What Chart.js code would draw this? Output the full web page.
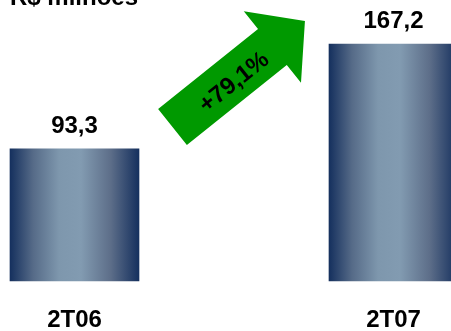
<!DOCTYPE html>
<html>
<head>
<meta charset="utf-8">
<script src="https://cdn.jsdelivr.net/npm/chart.js@4"></script>
<style>
  html, body { margin: 0; padding: 0; background: #fff; }
  canvas { display: block; }
</style>
</head>
<body>
<canvas id="revenueChart" width="451" height="331"></canvas>
<script>
var periods = ['2T06', '2T07'];
var revenue = [93.3, 167.2];
var growthLabel = '+79,1%';
var unitLabel = 'R$ milhões';

var FONT = '"Liberation Sans", Arial, sans-serif';
var BAR_WIDTH = 129;

// metallic look: dark navy edges, light steel blue centre
function barGradient(context) {
    var chart = context.chart;
    if (!chart.chartArea) return '#1b3660';
    var cx = chart.scales.x.getPixelForValue(context.dataIndex);
    var half = BAR_WIDTH / 2;
    var g = chart.ctx.createLinearGradient(cx - half, 0, cx + half, 0);
    g.addColorStop(0, '#15305e');
    g.addColorStop(0.18, '#566b88');
    g.addColorStop(0.38, '#7e97ad');
    g.addColorStop(0.55, '#829bb1');
    g.addColorStop(0.78, '#5d6e89');
    g.addColorStop(1, '#15305e');
    return g;
}

function formatValue(v) {
    return v.toFixed(1).replace('.', ',');
}

// value labels above bars, unit title and growth arrow
var decorations = {
    id: 'decorations',
    afterDraw: function (chart) {
        var ctx = chart.ctx;
        var meta = chart.getDatasetMeta(0);

        ctx.save();
        ctx.fillStyle = '#000';
        ctx.font = 'bold 24px ' + FONT;
        ctx.textAlign = 'center';
        ctx.textBaseline = 'alphabetic';
        meta.data.forEach(function (bar, i) {
            ctx.fillText(formatValue(revenue[i]), bar.x, bar.y - 16);
        });

        // unit title, mostly cut off at the top
        ctx.textAlign = 'left';
        ctx.font = 'bold 24px ' + FONT;
        ctx.fillText(unitLabel, 10, 5);

        // green arrow
        ctx.translate(172.5, 127);
        ctx.rotate(-38.7 * Math.PI / 180);
        ctx.fillStyle = '#009900';
        ctx.beginPath();
        ctx.moveTo(0, -23);
        ctx.lineTo(128, -23);
        ctx.lineTo(128, -45.75);
        ctx.lineTo(169.7, 0);
        ctx.lineTo(128, 45.75);
        ctx.lineTo(128, 23);
        ctx.lineTo(0, 23);
        ctx.closePath();
        ctx.fill();

        ctx.fillStyle = '#000';
        ctx.font = 'bold 24px ' + FONT;
        ctx.textAlign = 'center';
        ctx.textBaseline = 'middle';
        ctx.fillText(growthLabel, 76, 4);
        ctx.restore();
    }
};

var chart = new Chart(document.getElementById('revenueChart').getContext('2d'), {
    type: 'bar',
    data: {
        labels: periods,
        datasets: [{
            data: revenue,
            backgroundColor: barGradient,
            borderWidth: 0,
            barThickness: BAR_WIDTH,
            clip: false
        }]
    },
    options: {
        responsive: false,
        animation: false,
        layout: {
            padding: { top: 40, left: 74.5, right: 57.5, bottom: 0 }
        },
        plugins: {
            legend: { display: false },
            tooltip: { enabled: false }
        },
        scales: {
            x: {
                offset: false,
                grid: { display: false, drawTicks: false },
                border: { display: false },
                ticks: {
                    color: '#000',
                    padding: 25,
                    maxRotation: 0,
                    font: { family: FONT, size: 24, weight: 'bold' }
                },
                afterFit: function (scale) {
                    scale.height = 50;
                }
            },
            y: {
                display: false,
                min: 0,
                max: 170
            }
        }
    },
    plugins: [decorations]
});
</script>
</body>
</html>
